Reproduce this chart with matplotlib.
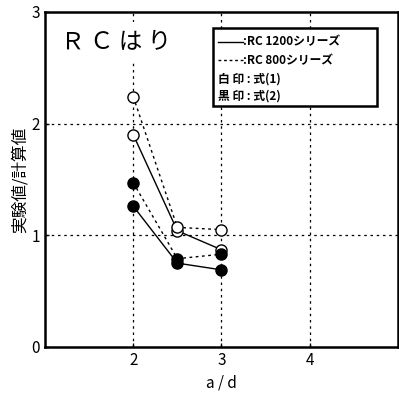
import matplotlib
matplotlib.use("Agg")
import matplotlib.pyplot as plt

plt.rcParams['font.family'] = ['Noto Sans CJK JP', 'DejaVu Sans']

ad = [2.0, 2.5, 3.0]
rc1200_eq1 = [1.90, 1.04, 0.87]
rc1200_eq2 = [1.26, 0.75, 0.69]
rc800_eq1 = [2.24, 1.07, 1.05]
rc800_eq2 = [1.47, 0.79, 0.83]

xticks = [2, 3, 4]
yticks = [0, 1, 2, 3]

fig = plt.figure(figsize=(3.99, 3.96), dpi=100)
ax = fig.add_axes([0.113, 0.124, 0.884, 0.846])
ax.set_xlim(1, 5)
ax.set_ylim(0, 3)

for x in xticks:
    ax.axvline(x, color='black', ls=(0, (2, 3)), lw=0.9, zorder=0)
for y in [1, 2]:
    ax.axhline(y, color='black', ls=(0, (2, 3)), lw=0.9, zorder=0)

ms = 8
ax.plot(ad, rc1200_eq1, '-', color='black', lw=1.0, marker='o', ms=ms,
        mfc='white', mec='black', mew=1.0)
ax.plot(ad, rc1200_eq2, '-', color='black', lw=1.0, marker='o', ms=ms,
        mfc='black', mec='black')
ax.plot(ad, rc800_eq1, color='black', ls=(0, (2, 2.5)), lw=1.0, marker='o', ms=ms,
        mfc='white', mec='black', mew=1.0)
ax.plot(ad, rc800_eq2, color='black', ls=(0, (2, 2.5)), lw=1.0, marker='o', ms=ms,
        mfc='black', mec='black')

ax.set_xticks(xticks)
ax.set_yticks(yticks)
ax.tick_params(direction='in', length=3, labelsize=11, width=1)
for s in ax.spines.values():
    s.set_linewidth(1.8)

ax.set_xlabel('a / d', fontsize=11, labelpad=4)
ax.set_ylabel('実験値/計算値', fontsize=12, labelpad=2)

ax.text(0.045, 0.91, 'Ｒ Ｃ は り', transform=ax.transAxes, fontsize=17,
        va='center', ha='left',
        bbox=dict(facecolor='white', edgecolor='none', pad=6))

# legend box
bx0, by0, bx1, by1 = 0.475, 0.72, 0.94, 0.952
ax.add_patch(plt.Rectangle((bx0, by0), bx1 - bx0, by1 - by0, transform=ax.transAxes,
                           facecolor='white', edgecolor='black', lw=1.8, zorder=5))
rows = [0.91, 0.855, 0.80, 0.748]
ax.plot([0.49, 0.56], [rows[0], rows[0]], transform=ax.transAxes, color='black',
        lw=1.0, zorder=6)
ax.plot([0.49, 0.56], [rows[1], rows[1]], transform=ax.transAxes, color='black',
        lw=1.0, ls=(0, (2, 2)), zorder=6)
fs = 8.5
ax.text(0.56, rows[0], ':RC 1200シリーズ', transform=ax.transAxes, fontsize=fs,
        va='center', ha='left', zorder=7, fontweight='bold')
ax.text(0.56, rows[1], ':RC 800シリーズ', transform=ax.transAxes, fontsize=fs,
        va='center', ha='left', zorder=7, fontweight='bold')
ax.text(0.49, rows[2], '白 印 : 式(1)', transform=ax.transAxes, fontsize=fs,
        va='center', ha='left', zorder=7, fontweight='bold')
ax.text(0.49, rows[3], '黒 印 : 式(2)', transform=ax.transAxes, fontsize=fs,
        va='center', ha='left', zorder=7, fontweight='bold')

fig.savefig('out.png', dpi=100)
